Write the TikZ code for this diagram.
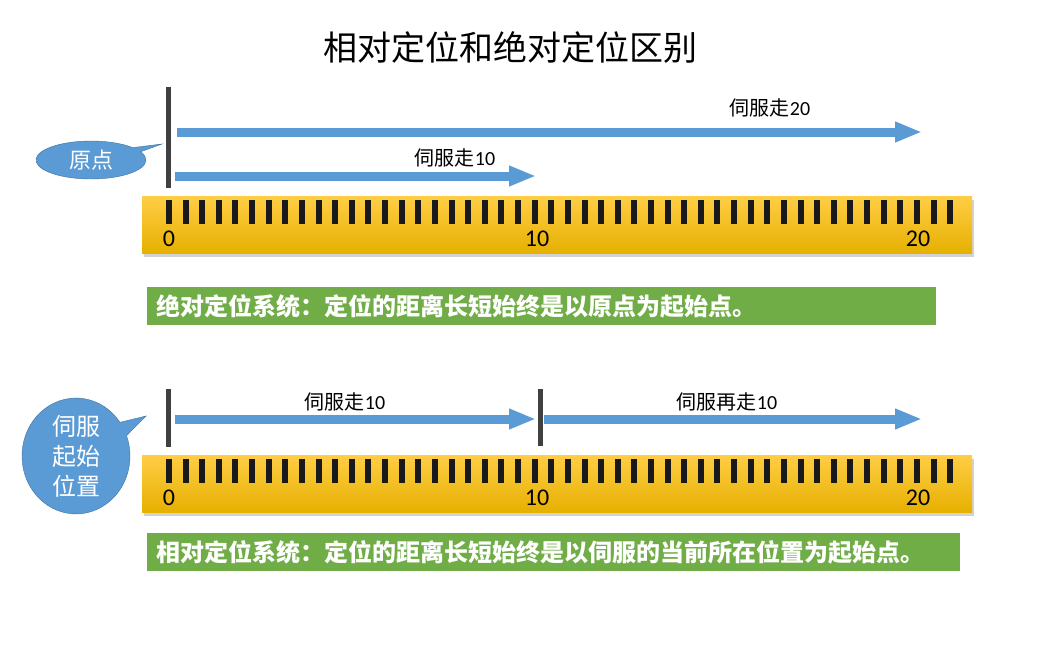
\documentclass[tikz,border=0pt]{standalone}
\usepackage{fontspec}
\setmainfont{Carlito}
\newfontfamily\cjk{Noto Sans CJK SC}
\usetikzlibrary{arrows.meta,shapes.callouts,shadows}
\definecolor{servoblue}{HTML}{5B9BD5}
\definecolor{servoedge}{HTML}{41719C}
\definecolor{bardark}{HTML}{404040}
\definecolor{notegreen}{HTML}{70AD47}
\definecolor{rulertop}{HTML}{FFCD45}
\definecolor{rulermid}{HTML}{FFC300}
\definecolor{rulerbot}{HTML}{E6B000}

\begin{document}
\begin{tikzpicture}[x=1pt,y=-1pt,
    bar/.style={line width=5pt, bardark},
    move/.style={line width=9pt, servoblue, -{Triangle[length=27pt,width=19pt]}},
    movelabel/.style={font=\fontsize{20}{24}\selectfont},
    ruler/.style={minimum width=830pt, minimum height=57pt, inner sep=0pt,
        top color=rulertop, middle color=rulermid, bottom color=rulerbot,
        drop shadow={shadow xshift=2pt, shadow yshift=-3pt, opacity=0.35}},
    tick/.style={line width=6pt, black!90},
    digit/.style={font=\fontsize{24}{28}\selectfont},
    note/.style={anchor=west, fill=notegreen, text=white, minimum height=38pt,
        inner xsep=9pt, align=left, font=\cjk\bfseries\fontsize{24}{28}\selectfont},
    bubble/.style={ellipse callout, fill=servoblue, draw=servoedge, text=white,
        inner sep=0pt}]
    \fill[white] (0,0) rectangle (1059,653);
    \useasboundingbox (0,0) rectangle (1059,653);

    % title
    \node[font=\cjk\fontsize{34}{40}\selectfont] (title) at (510,47) {相对定位和绝对定位区别};

    % two rulers
    \foreach \y/\n in {197/top,456/bot} {
        \node[ruler] (ruler\n) at (557,{\y+28}) {};
        \foreach \i in {0,...,47}
            \draw[tick] ({169+16.62*\i},{\y+3}) -- ++(0,24);
        \node[digit] (zero\n) at (169,{\y+42}) {0};
        \node[digit] (ten\n) at (537,{\y+42}) {10};
        \node[digit] (twenty\n) at (918,{\y+42}) {20};
    }

    % absolute positioning
    \coordinate (origin) at (168,87);
    \coordinate (originb) at (168,188);
    \draw[bar] (origin) -- (originb);
    \coordinate (abs20s) at (177,132);
    \coordinate (abs20e) at (922,132);
    \coordinate (abs10s) at (175,176);
    \coordinate (abs10e) at (536,176);
    \draw[move] (abs20s) -- (abs20e);
    \draw[move] (abs10s) -- (abs10e);
    \node[movelabel] (lab20) at (770,108) {{\cjk 伺服走}20};
    \node[movelabel] (lab10) at (455,158) {{\cjk 伺服走}10};
    \node[bubble, minimum width=110pt, minimum height=38pt,
        callout absolute pointer={(162,144)},
        font=\cjk\fontsize{22}{26}\selectfont] (yuandian) at (91,160) {原点};
    \node[note, text width=771pt] (absnote) at (147,306)
        {绝对定位系统：定位的距离长短始终是以原点为起始点。};

    % relative positioning
    \coordinate (start) at (168,389);
    \coordinate (startb) at (168,447);
    \coordinate (mid) at (540,389);
    \coordinate (midb) at (540,446);
    \draw[bar] (start) -- (startb);
    \draw[bar] (mid) -- (midb);
    \coordinate (rel1s) at (175,419);
    \coordinate (rel1e) at (536,419);
    \coordinate (rel2s) at (544,419);
    \coordinate (rel2e) at (922,419);
    \draw[move] (rel1s) -- (rel1e);
    \draw[move] (rel2s) -- (rel2e);
    \node[movelabel] (rlab1) at (345,402) {{\cjk 伺服走}10};
    \node[movelabel] (rlab2) at (727,402) {{\cjk 伺服再走}10};
    \node[bubble, minimum width=108pt, minimum height=108pt,
        callout absolute pointer={(146,416)}, align=center,
        font=\cjk\fontsize{24}{30}\selectfont] (qishi) at (76,456) {伺服\\起始\\位置};
    \node[note, text width=795pt] (relnote) at (147,552)
        {相对定位系统：定位的距离长短始终是以伺服的当前所在位置为起始点。};
\end{tikzpicture}
\end{document}
